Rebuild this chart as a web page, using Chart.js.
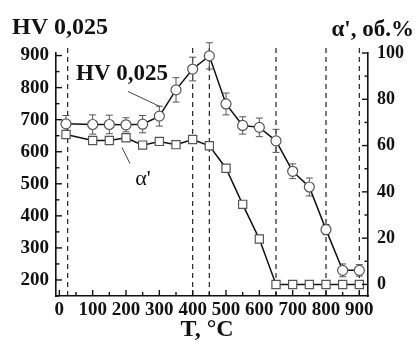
<!DOCTYPE html>
<html>
<head>
<meta charset="utf-8">
<script src="https://cdn.jsdelivr.net/npm/chart.js@4.4.1/dist/chart.umd.min.js"></script>
<style>
  html, body { margin: 0; padding: 0; background: #fff; }
  #wrap { width: 417px; height: 340px; }
</style>
</head>
<body>
<div id="wrap"><canvas id="chart"></canvas></div>
<script>
// annealing temperature, °C
const temps = [20, 100, 150, 200, 250, 300, 350, 400, 450, 500, 550, 600, 650, 700, 750, 800, 850, 900];
// microhardness HV 0,025 and its scatter
const hv = [687, 685, 685, 684, 686, 711, 793, 858, 899, 749, 682, 676, 634, 539, 490, 357, 230, 230];
const hvErr = [26, 30, 29, 22, 27, 31, 38, 37, 41, 34, 27, 29, 36, 23, 28, 16, 20, 18];
// martensite alpha', vol.%
const alpha = [64.8, 62.2, 62.2, 63.4, 60.2, 61.8, 60.4, 62.6, 59.9, 50.2, 34.6, 19.6, 0, 0, 0, 0, 0, 0];
// dashed marker lines
const phaseLines = [25, 400, 450, 650, 800, 900];

const serif = "'Liberation Serif', 'Times New Roman', serif";
const ink = '#111';

// in-plot labels, placed in data coordinates (T, HV)
const notes = [
    { text: 'HV 0,025', t: 50, v: 841, weight: 'bold', size: 23, align: 'left' },
    { text: "\u03b1'", t: 251, v: 513, weight: 'normal', size: 22, align: 'center' },
];
const leaders = [
    [206, 788, 302, 741],
    [188, 613, 212, 563],
];

const decor = {
    id: 'decor',
    beforeDatasetsDraw(chart) {
        const { ctx, chartArea: a, scales: { x, y } } = chart;
        ctx.save();
        ctx.setLineDash([5, 4]);
        ctx.strokeStyle = '#222';
        ctx.lineWidth = 1.2;
        phaseLines.forEach(t => {
            const px = x.getPixelForValue(t);
            ctx.beginPath();
            ctx.moveTo(px, a.bottom);
            ctx.lineTo(px, a.top - 9);
            ctx.stroke();
        });
        ctx.setLineDash([]);

        // error bars under the circles
        ctx.strokeStyle = '#555';
        ctx.lineWidth = 1;
        temps.forEach((t, i) => {
            const px = x.getPixelForValue(t);
            const top = y.getPixelForValue(hv[i] + hvErr[i]);
            const bot = y.getPixelForValue(hv[i] - hvErr[i]);
            ctx.beginPath();
            ctx.moveTo(px, top); ctx.lineTo(px, bot);
            ctx.moveTo(px - 3.5, top); ctx.lineTo(px + 3.5, top);
            ctx.moveTo(px - 3.5, bot); ctx.lineTo(px + 3.5, bot);
            ctx.stroke();
        });

        // leader lines
        ctx.strokeStyle = '#444';
        ctx.lineWidth = 1;
        leaders.forEach(([t1, v1, t2, v2]) => {
            ctx.beginPath();
            ctx.moveTo(x.getPixelForValue(t1), y.getPixelForValue(v1));
            ctx.lineTo(x.getPixelForValue(t2), y.getPixelForValue(v2));
            ctx.stroke();
        });
        ctx.restore();
    },
    afterDatasetsDraw(chart) {
        const { ctx, chartArea: a, scales: { x, y, y2 } } = chart;
        ctx.save();
        ctx.strokeStyle = ink;
        ctx.lineWidth = 1.4;

        // ticks pointing into the plot
        x.ticks.forEach(tk => {
            const len = tk.value % 100 === 0 ? 6 : 4;
            const px = x.getPixelForValue(tk.value);
            ctx.beginPath(); ctx.moveTo(px, a.bottom); ctx.lineTo(px, a.bottom - len); ctx.stroke();
        });
        y.ticks.forEach(tk => {
            const len = tk.value % 100 === 0 ? 6 : 3.5;
            const py = y.getPixelForValue(tk.value);
            ctx.beginPath(); ctx.moveTo(a.left, py); ctx.lineTo(a.left + len, py); ctx.stroke();
        });
        y2.ticks.forEach(tk => {
            const len = tk.value % 20 === 0 ? 6 : 3.5;
            const py = y2.getPixelForValue(tk.value);
            ctx.beginPath(); ctx.moveTo(a.right, py); ctx.lineTo(a.right - len, py); ctx.stroke();
        });

        ctx.fillStyle = ink;
        ctx.textBaseline = 'middle';
        notes.forEach(n => {
            ctx.font = `${n.weight} ${n.size}px ${serif}`;
            ctx.textAlign = n.align;
            ctx.fillText(n.text, x.getPixelForValue(n.t), y.getPixelForValue(n.v));
        });

        // axis titles
        ctx.font = `bold 24px ${serif}`;
        ctx.textAlign = 'left';
        ctx.fillText('HV 0,025', 12, 28);
        ctx.font = `bold 23px ${serif}`;
        ctx.textAlign = 'right';
        ctx.fillText("\u03b1', об.%", 414, 30);
        ctx.font = `bold 24px ${serif}`;
        ctx.textAlign = 'center';
        ctx.fillText('T, °C', 207, 330);
        ctx.restore();
    }
};

const tickFont = { family: serif, size: 19, weight: 'bold' };
const border = { display: true, color: ink, width: 1.6 };

new Chart(document.getElementById('chart'), {
    type: 'line',
    data: {
        datasets: [
            {
                label: 'HV 0,025',
                data: temps.map((t, i) => ({ x: t, y: hv[i] })),
                yAxisID: 'y',
                borderColor: ink,
                borderWidth: 1.5,
                pointStyle: 'circle',
                pointRadius: 5,
                pointBorderColor: '#555',
                pointBackgroundColor: '#fff',
                pointBorderWidth: 1.2,
                clip: false,
            },
            {
                label: "\u03b1'",
                data: temps.map((t, i) => ({ x: t, y: alpha[i] })),
                yAxisID: 'y2',
                borderColor: ink,
                borderWidth: 1.5,
                pointStyle: 'rect',
                pointRadius: 5.8,
                pointBorderColor: '#555',
                pointBackgroundColor: '#fff',
                pointBorderWidth: 1.2,
                clip: false,
            },
        ],
    },
    options: {
        responsive: true,
        maintainAspectRatio: false,
        animation: false,
        layout: { padding: { top: 53, right: 0, bottom: 0, left: 0 } },
        plugins: { legend: { display: false }, tooltip: { enabled: false } },
        scales: {
            x: {
                type: 'linear',
                min: -10,
                max: 926,
                afterFit: s => { s.height = 44; },
                grid: { display: false, drawTicks: false },
                border,
                ticks: {
                    stepSize: 50,
                    includeBounds: false,
                    autoSkip: false,
                    maxRotation: 0,
                    padding: 3,
                    font: tickFont,
                    color: ink,
                    callback: v => (v % 100 === 0 ? v : ''),
                },
            },
            y: {
                position: 'left',
                min: 150,
                max: 908,
                afterFit: s => { s.width = 56; },
                grid: { display: false, drawTicks: false },
                border,
                ticks: {
                    stepSize: 50,
                    includeBounds: false,
                    autoSkip: false,
                    padding: 7,
                    font: tickFont,
                    color: ink,
                    callback: v => (v % 100 === 0 ? v : ''),
                },
            },
            y2: {
                position: 'right',
                min: -5,
                max: 100,
                afterFit: s => { s.width = 49; },
                grid: { display: false, drawTicks: false },
                border,
                ticks: {
                    stepSize: 10,
                    includeBounds: false,
                    autoSkip: false,
                    padding: 9,
                    font: { family: serif, size: 18, weight: 'bold' },
                    color: ink,
                    callback: v => (v % 20 === 0 ? v : ''),
                },
            },
        },
    },
    plugins: [decor],
});
</script>
</body>
</html>
